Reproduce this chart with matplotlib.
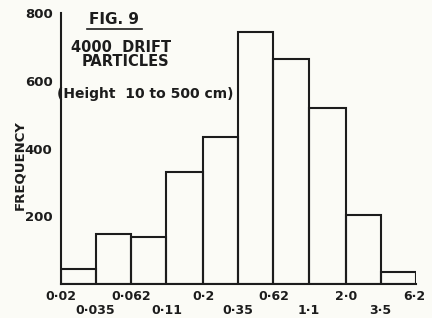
import matplotlib
matplotlib.use("Agg")
import matplotlib.pyplot as plt
import numpy as np

# Data
edges = [0.02, 0.035, 0.062, 0.11, 0.2, 0.35, 0.62, 1.1, 2.0, 3.5, 6.2]
freq = [43, 147, 139, 331, 433, 743, 663, 520, 203, 35]
edge_labels = ["0·02", "0·035", "0·062", "0·11", "0·2", "0·35", "0·62", "1·1", "2·0", "3·5", "6·2"]
y_ticks = [200, 400, 600, 800]

bg = "#fbfbf6"
ink = "#1c1c1c"

fig = plt.figure(figsize=(4.32, 3.18), dpi=100, facecolor=bg)
ax = fig.add_axes([0.141, 0.107, 0.822, 0.852], facecolor=bg)

for i, f in enumerate(freq):
    ax.bar(edges[i], f, width=edges[i + 1] - edges[i], align="edge",
           facecolor="none", edgecolor=ink, linewidth=1.5)

ax.set_xscale("log")
ax.set_xlim(edges[0], edges[-1])
ax.set_ylim(0, 800)

for s in ["top", "right"]:
    ax.spines[s].set_visible(False)
for s in ["left", "bottom"]:
    ax.spines[s].set_color(ink)
    ax.spines[s].set_linewidth(1.5)

ax.set_yticks(y_ticks)
ax.set_yticklabels([str(v) for v in y_ticks], fontsize=9.5, fontweight="bold", color=ink)
ax.tick_params(axis="y", length=0, pad=6)
ax.set_xticks([])
ax.xaxis.set_minor_locator(matplotlib.ticker.NullLocator())

trans = ax.get_xaxis_transform()
for i, (e, lab) in enumerate(zip(edges, edge_labels)):
    yoff = -0.048 if i % 2 == 0 else -0.097
    xx = e if i < len(edges) - 1 else e * 0.97
    ax.text(xx, yoff, lab, transform=trans, ha="center", va="center",
            fontsize=9, fontweight="bold", color=ink, clip_on=False)

fig.text(20 / 432, 1 - 165 / 318, "FREQUENCY", rotation=90, ha="center", va="center",
         fontsize=9.5, fontweight="bold", color=ink)

fig.text(114 / 432, 1 - 19 / 318, "FIG. 9", ha="center", va="center",
         fontsize=11, fontweight="bold", color=ink)
fig.add_artist(plt.Line2D([87 / 432, 142 / 432], [1 - 29 / 318, 1 - 29 / 318],
                          color=ink, linewidth=1.2))
fig.text(121 / 432, 1 - 47 / 318, "4000  DRIFT", ha="center", va="center",
         fontsize=10.5, fontweight="bold", color=ink)
fig.text(125 / 432, 1 - 62 / 318, "PARTICLES", ha="center", va="center",
         fontsize=10.5, fontweight="bold", color=ink)
fig.text(57 / 432, 1 - 94 / 318, "(Height  10 to 500 cm)", ha="left", va="center",
         fontsize=10, fontweight="bold", color=ink)

fig.savefig("out.png", dpi=100, facecolor=bg)
